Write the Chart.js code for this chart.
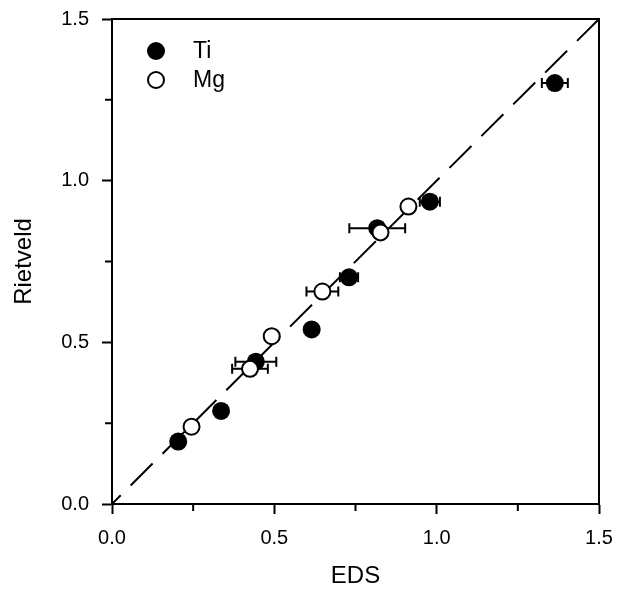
<!DOCTYPE html>
<html><head><meta charset="utf-8">
<script src="https://cdn.jsdelivr.net/npm/chart.js@4"></script>
<style>html,body{margin:0;padding:0;background:#fff}#c{display:block}</style>
</head><body>
<canvas id="c" width="618" height="593"></canvas>
<script>
// ---- data ----
const seriesNames = ['Ti', 'Mg'];
const tiX   = [0.204, 0.336, 0.443, 0.615, 0.730, 0.817, 0.979, 1.364];
const tiY   = [0.193, 0.288, 0.440, 0.540, 0.701, 0.853, 0.935, 1.302];
const tiErr = [0,     0,     0.063, 0,     0.028, 0.086, 0.031, 0.040];
const mgX   = [0.245, 0.425, 0.492, 0.648, 0.827, 0.913];
const mgY   = [0.239, 0.418, 0.519, 0.657, 0.840, 0.920];
const mgErr = [0,     0.055, 0,     0.049, 0,     0];
const refLineX = [1.5, 0];
const refLineY = [1.5, 0];
const majorTicks = [0, 0.5, 1.0, 1.5];
const minorTicks = [0.25, 0.75, 1.25];
const xTitle = 'EDS';
const yTitle = 'Rietveld';

const FONT = "'Liberation Sans', Arial, sans-serif";
const toPts = (xs, ys) => xs.map((x, i) => ({x: x, y: ys[i]}));

const extras = {
  id: 'extras',
  beforeDatasetsDraw(chart) {
    const {ctx, scales: {x, y}} = chart;
    ctx.save();
    ctx.strokeStyle = '#000';
    ctx.lineWidth = 2;
    const bars = (xs, ys, es) => {
      xs.forEach((v, i) => {
        const e = es[i];
        if (!e) return;
        const py = y.getPixelForValue(ys[i]);
        const x0 = x.getPixelForValue(v - e), x1 = x.getPixelForValue(v + e);
        ctx.beginPath();
        ctx.moveTo(x0, py); ctx.lineTo(x1, py);
        ctx.moveTo(x0, py - 5); ctx.lineTo(x0, py + 5);
        ctx.moveTo(x1, py - 5); ctx.lineTo(x1, py + 5);
        ctx.stroke();
      });
    };
    bars(tiX, tiY, tiErr);
    bars(mgX, mgY, mgErr);
    ctx.restore();
  },
  afterDraw(chart) {
    const {ctx, chartArea: a, scales: {x, y}} = chart;
    ctx.save();
    ctx.strokeStyle = '#000';
    ctx.lineWidth = 2;
    ctx.strokeRect(a.left, a.top, a.right - a.left, a.bottom - a.top);
    ctx.beginPath();
    minorTicks.forEach(v => {
      const px = x.getPixelForValue(v);
      ctx.moveTo(px, a.bottom); ctx.lineTo(px, a.bottom + 7);
      const py = y.getPixelForValue(v);
      ctx.moveTo(a.left, py); ctx.lineTo(a.left - 7, py);
    });
    ctx.stroke();
    // legend
    const lx = 156, ly = [51, 80];
    ctx.fillStyle = '#000';
    ctx.beginPath(); ctx.arc(lx, ly[0], 9, 0, Math.PI * 2); ctx.fill();
    ctx.beginPath(); ctx.arc(lx, ly[1], 8, 0, Math.PI * 2);
    ctx.fillStyle = '#fff'; ctx.fill(); ctx.stroke();
    ctx.fillStyle = '#000';
    ctx.font = '23px ' + FONT;
    ctx.textBaseline = 'middle';
    ctx.textAlign = 'left';
    ctx.fillText(seriesNames[0], 193, ly[0] + 1);
    ctx.fillText(seriesNames[1], 193, ly[1] + 1);
    ctx.restore();
  }
};

const zeroPad = s => { s.paddingLeft = 0; s.paddingRight = 0; s.paddingTop = 0; s.paddingBottom = 0; };

const axisCommon = (title, titlePad) => ({
  type: 'linear', min: 0, max: 1.5,
  afterBuildTicks: s => { s.ticks = majorTicks.map(v => ({value: v})); },
  ticks: {
    callback: v => Number(v).toFixed(1),
    color: '#000', font: {family: FONT, size: 20}
  },
  grid: {drawOnChartArea: false, tickLength: 10, tickColor: '#000', tickWidth: 2},
  border: {display: true, color: '#000', width: 2},
  title: {display: true, text: title, color: '#000', font: {family: FONT, size: 24}, padding: titlePad}
});

const xAxis = axisCommon(xTitle, {top: 0, bottom: 2});
xAxis.ticks.padding = 12;
xAxis.afterFit = s => { s.height = 89; zeroPad(s); };
const yAxis = axisCommon(yTitle, {top: 10, bottom: 0});
yAxis.ticks.padding = 13;
yAxis.afterFit = s => { s.width = 112; zeroPad(s); };

new Chart(document.getElementById('c'), {
  type: 'scatter',
  data: {
    datasets: [
      {type: 'line', label: 'ref', data: toPts(refLineX, refLineY), borderColor: '#000', borderWidth: 2,
       borderDash: [31, 14], pointRadius: 0, fill: false, order: 3},
      {label: seriesNames[0], data: toPts(tiX, tiY), pointRadius: 9, backgroundColor: '#000',
       borderColor: '#000', borderWidth: 0, order: 2},
      {label: seriesNames[1], data: toPts(mgX, mgY), pointRadius: 8, backgroundColor: '#fff',
       borderColor: '#000', borderWidth: 2, order: 1}
    ]
  },
  options: {
    responsive: false, devicePixelRatio: 1, animation: false,
    layout: {padding: {top: 19, right: 19, left: 0, bottom: 0}},
    plugins: {legend: {display: false}, tooltip: {enabled: false}},
    scales: {x: xAxis, y: yAxis}
  },
  plugins: [extras]
});
</script>
</body></html>
